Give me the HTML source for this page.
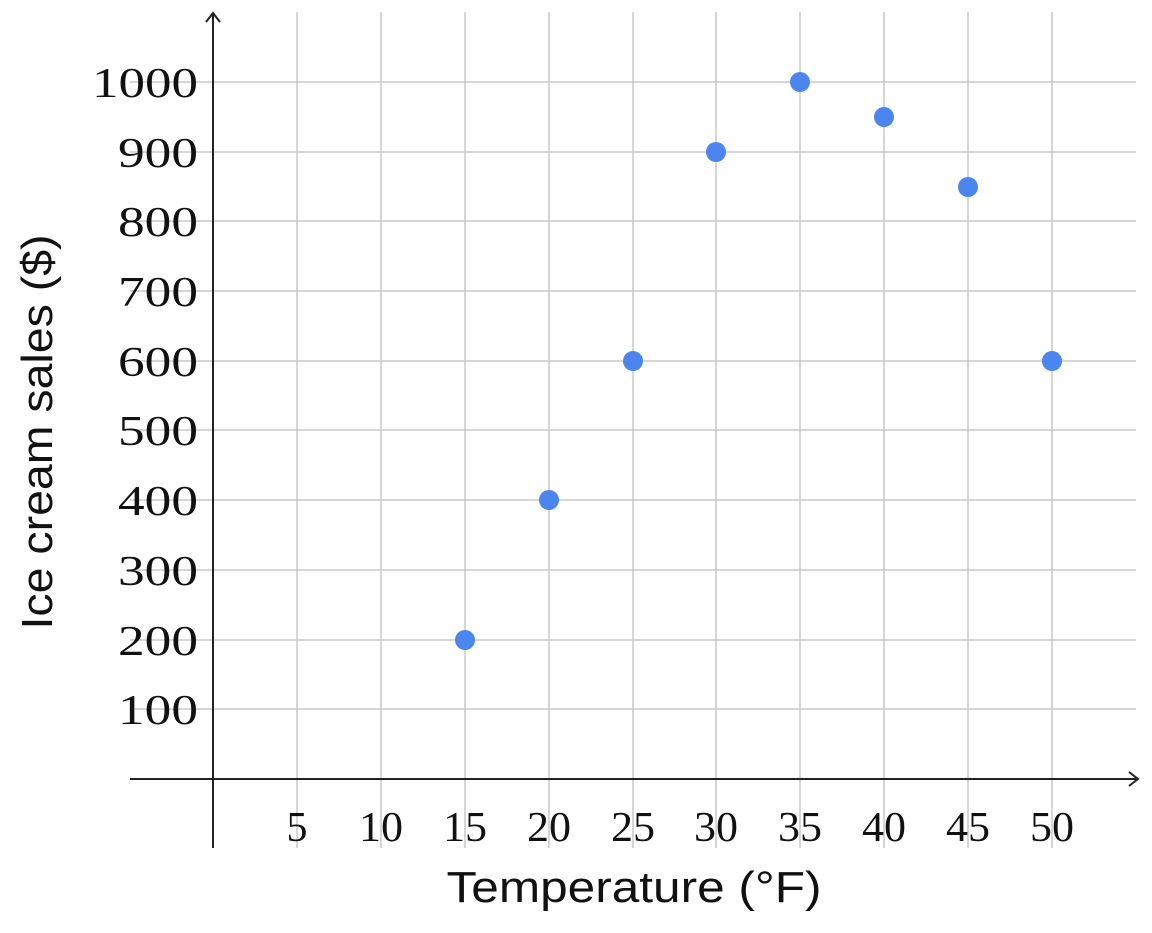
<!DOCTYPE html>
<html><head><meta charset="utf-8"><style>body{margin:0;background:#fff}</style></head><body>
<svg width="1152" height="928" xmlns="http://www.w3.org/2000/svg">
<g stroke="#c8c8c8" stroke-width="1.5">
<line x1="297" y1="12" x2="297" y2="848"/><line x1="381" y1="12" x2="381" y2="848"/><line x1="465" y1="12" x2="465" y2="848"/><line x1="549" y1="12" x2="549" y2="848"/><line x1="633" y1="12" x2="633" y2="848"/><line x1="716" y1="12" x2="716" y2="848"/><line x1="800" y1="12" x2="800" y2="848"/><line x1="884" y1="12" x2="884" y2="848"/><line x1="968" y1="12" x2="968" y2="848"/><line x1="1052" y1="12" x2="1052" y2="848"/>
<line x1="130" y1="82" x2="1136" y2="82"/><line x1="130" y1="152" x2="1136" y2="152"/><line x1="130" y1="221" x2="1136" y2="221"/><line x1="130" y1="291" x2="1136" y2="291"/><line x1="130" y1="361" x2="1136" y2="361"/><line x1="130" y1="430" x2="1136" y2="430"/><line x1="130" y1="500" x2="1136" y2="500"/><line x1="130" y1="570" x2="1136" y2="570"/><line x1="130" y1="640" x2="1136" y2="640"/><line x1="130" y1="709" x2="1136" y2="709"/>
</g>
<g stroke="#222" stroke-width="2" fill="none">
<line x1="213" y1="848" x2="213" y2="14"/><polyline points="206,22 213,13 220,22"/>
<line x1="130" y1="779" x2="1136" y2="779"/><polyline points="1129,772 1138,779 1129,786"/>
</g>
<g font-family="Liberation Serif, serif" font-size="42" fill="#111" text-anchor="end">
<text x="198" y="97" textLength="106" lengthAdjust="spacingAndGlyphs">1000</text>
<text x="198" y="167" textLength="80" lengthAdjust="spacingAndGlyphs">900</text>
<text x="198" y="236" textLength="80" lengthAdjust="spacingAndGlyphs">800</text>
<text x="198" y="306" textLength="80" lengthAdjust="spacingAndGlyphs">700</text>
<text x="198" y="376" textLength="80" lengthAdjust="spacingAndGlyphs">600</text>
<text x="198" y="445" textLength="80" lengthAdjust="spacingAndGlyphs">500</text>
<text x="198" y="515" textLength="80" lengthAdjust="spacingAndGlyphs">400</text>
<text x="198" y="585" textLength="80" lengthAdjust="spacingAndGlyphs">300</text>
<text x="198" y="655" textLength="80" lengthAdjust="spacingAndGlyphs">200</text>
<text x="198" y="724" textLength="80" lengthAdjust="spacingAndGlyphs">100</text>
</g>
<g font-family="Liberation Serif, serif" font-size="42" fill="#111" text-anchor="middle">
<text x="297" y="841">5</text>
<text x="381" y="841" textLength="44" lengthAdjust="spacingAndGlyphs">10</text>
<text x="465" y="841" textLength="44" lengthAdjust="spacingAndGlyphs">15</text>
<text x="549" y="841" textLength="44" lengthAdjust="spacingAndGlyphs">20</text>
<text x="633" y="841" textLength="44" lengthAdjust="spacingAndGlyphs">25</text>
<text x="716" y="841" textLength="44" lengthAdjust="spacingAndGlyphs">30</text>
<text x="800" y="841" textLength="44" lengthAdjust="spacingAndGlyphs">35</text>
<text x="884" y="841" textLength="44" lengthAdjust="spacingAndGlyphs">40</text>
<text x="968" y="841" textLength="44" lengthAdjust="spacingAndGlyphs">45</text>
<text x="1052" y="841" textLength="44" lengthAdjust="spacingAndGlyphs">50</text>
</g>
<text x="634" y="902" font-family="Liberation Sans, sans-serif" font-size="44" fill="#111" text-anchor="middle" textLength="375" lengthAdjust="spacingAndGlyphs">Temperature (°F)</text>
<text transform="translate(52,432) rotate(-90)" font-family="Liberation Sans, sans-serif" font-size="44" fill="#111" text-anchor="middle" textLength="395" lengthAdjust="spacingAndGlyphs">Ice cream sales ($)</text>
<g fill="#4a86ee">
<circle cx="465" cy="640" r="10"/><circle cx="549" cy="500" r="10"/><circle cx="633" cy="361" r="10"/><circle cx="716" cy="152" r="10"/><circle cx="800" cy="82" r="10"/><circle cx="884" cy="117" r="10"/><circle cx="968" cy="187" r="10"/><circle cx="1052" cy="361" r="10"/>
</g>
</svg>
</body></html>
